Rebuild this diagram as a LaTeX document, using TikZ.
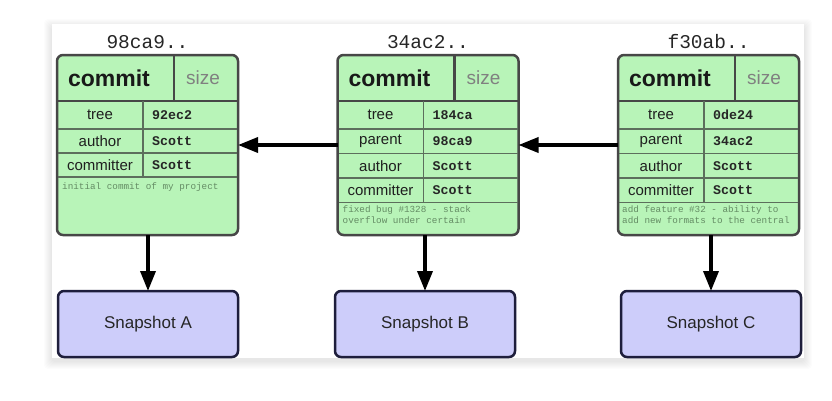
\documentclass[tikz,border=0pt]{standalone}
\usepackage{fontspec}
\setmainfont{Liberation Sans}
\setmonofont{Liberation Mono}
\usetikzlibrary{arrows.meta,positioning}
\definecolor{commitfill}{HTML}{B8F4B8}
\definecolor{commitline}{HTML}{474747}
\definecolor{rowline}{HTML}{5C6E5C}
\definecolor{snapfill}{HTML}{CDCDFA}
\definecolor{snapline}{HTML}{1E1E3C}
\definecolor{msgtext}{HTML}{648C64}
\tikzstyle{node_commit} = [draw=commitline, fill=commitfill, line width=2.5pt, rounded corners=6pt, minimum width=181pt, minimum height=180pt, inner sep=0pt, outer sep=0pt]
\tikzstyle{node_snapshot} = [draw=snapline, fill=snapfill, line width=2.5pt, rounded corners=6pt, minimum width=180pt, minimum height=66pt, outer sep=0pt, font=\fontsize{17}{20}\selectfont, text=black!85]
\tikzstyle{node_hash} = [font=\ttfamily\fontsize{19.5}{22}\selectfont, inner sep=0pt, text=black!85]
\tikzstyle{text_head} = [font=\bfseries\fontsize{23}{25}\selectfont, text=black!90]
\tikzstyle{text_size} = [font=\fontsize{19}{21}\selectfont, text=black!50]
\tikzstyle{text_key} = [font=\fontsize{15}{17}\selectfont, text=black!88]
\tikzstyle{text_value} = [font=\ttfamily\bfseries\fontsize{13.3}{15}\selectfont, anchor=west, inner sep=0pt, text=black!85]
\tikzstyle{text_msg} = [font=\ttfamily\fontsize{9.3}{11}\selectfont, anchor=north west, align=left, inner sep=0pt, text=msgtext]
\tikzstyle{edge_head} = [draw=commitline, line width=2.2pt]
\tikzstyle{edge_row} = [draw=rowline, line width=1.2pt]
\tikzstyle{edge_parent} = [line width=3.5pt, -{Triangle[length=20pt,width=15pt]}]

\begin{document}
\begin{tikzpicture}[x=1pt,y=-1pt]
\useasboundingbox (0,0) rectangle (832,400);

% card with soft shadow
\foreach \i in {1,...,8}
  \fill[black, opacity=0.012, rounded corners=4pt] (52-\i,24-\i+3) rectangle (804+\i,358+\i+3);
\fill[white] (52,24) rectangle (804,358);

% commits
\node (cA) at (147.5,145) [node_commit] {};
\node (cB) at (428,145) [node_commit] {};
\node (cC) at (708.5,145) [node_commit] {};

\node (hA) [node_hash, above=6pt of cA] {98ca9..};
\node (hB) [node_hash, above=6pt of cB] {34ac2..};
\node (hC) [node_hash, above=6pt of cC] {f30ab..};

% commit 98ca9
\begin{scope}[shift={(cA.north west)}]
\draw[edge_head] (117,1) -- (117,46);
\draw[edge_head] (1,46) -- (180,46);
\draw[edge_row] (86,46) -- (86,122);
\foreach \y in {74,98,122} \draw[edge_row] (1,\y) -- (180,\y);
\node (A_commit) at (52,23) [text_head] {commit};
\node (A_size) at (146,23) [text_size] {size};
\foreach \y/\key/\val in {60/tree/92ec2, 86/author/Scott, 110/committer/Scott} {
  \node (A_\key) at (43,\y) [text_key] {\key};
  \node (A_\key_val) at (95,\y) [text_value] {\val};
}
\node (A_msg) at (5,128) [text_msg] {initial commit of my project};
\end{scope}

% commit 34ac2
\begin{scope}[shift={(cB.north west)}]
\draw[edge_head] (117,1) -- (117,46);
\draw[edge_head] (1,46) -- (180,46);
\draw[edge_row] (86,46) -- (86,147.5);
\foreach \y in {74,98.5,123,147.5} \draw[edge_row] (1,\y) -- (180,\y);
\node (B_commit) at (52,23) [text_head] {commit};
\node (B_size) at (146,23) [text_size] {size};
\foreach \y/\key/\val in {60/tree/184ca, 86.25/parent/98ca9, 110.75/author/Scott, 135.25/committer/Scott} {
  \node (B_\key) at (43,\y) [text_key] {\key};
  \node (B_\key_val) at (95,\y) [text_value] {\val};
}
\node (B_msg) at (5,151) [text_msg] {fixed bug \#1328 - stack\\overflow under certain};
\end{scope}

% commit f30ab
\begin{scope}[shift={(cC.north west)}]
\draw[edge_head] (117,1) -- (117,46);
\draw[edge_head] (1,46) -- (180,46);
\draw[edge_row] (86,46) -- (86,147.5);
\foreach \y in {74,98.5,123,147.5} \draw[edge_row] (1,\y) -- (180,\y);
\node (C_commit) at (52,23) [text_head] {commit};
\node (C_size) at (146,23) [text_size] {size};
\foreach \y/\key/\val in {60/tree/0de24, 86.25/parent/34ac2, 110.75/author/Scott, 135.25/committer/Scott} {
  \node (C_\key) at (43,\y) [text_key] {\key};
  \node (C_\key_val) at (95,\y) [text_value] {\val};
}
\node (C_msg) at (4,151) [text_msg] {add feature \#32 - ability to\\add new formats to the central};
\end{scope}

% snapshots
\node (sA) at (148,324) [node_snapshot] {Snapshot A};
\node (sB) at (425,324) [node_snapshot] {Snapshot B};
\node (sC) at (711,324) [node_snapshot] {Snapshot C};

% parents
\draw[edge_parent] (cB) -- (cA);
\draw[edge_parent] (cC) -- (cB);

% trees
\draw[edge_parent] (sA |- cA.south) -- (sA);
\draw[edge_parent] (sB |- cB.south) -- (sB);
\draw[edge_parent] (sC |- cC.south) -- (sC);
\end{tikzpicture}
\end{document}
